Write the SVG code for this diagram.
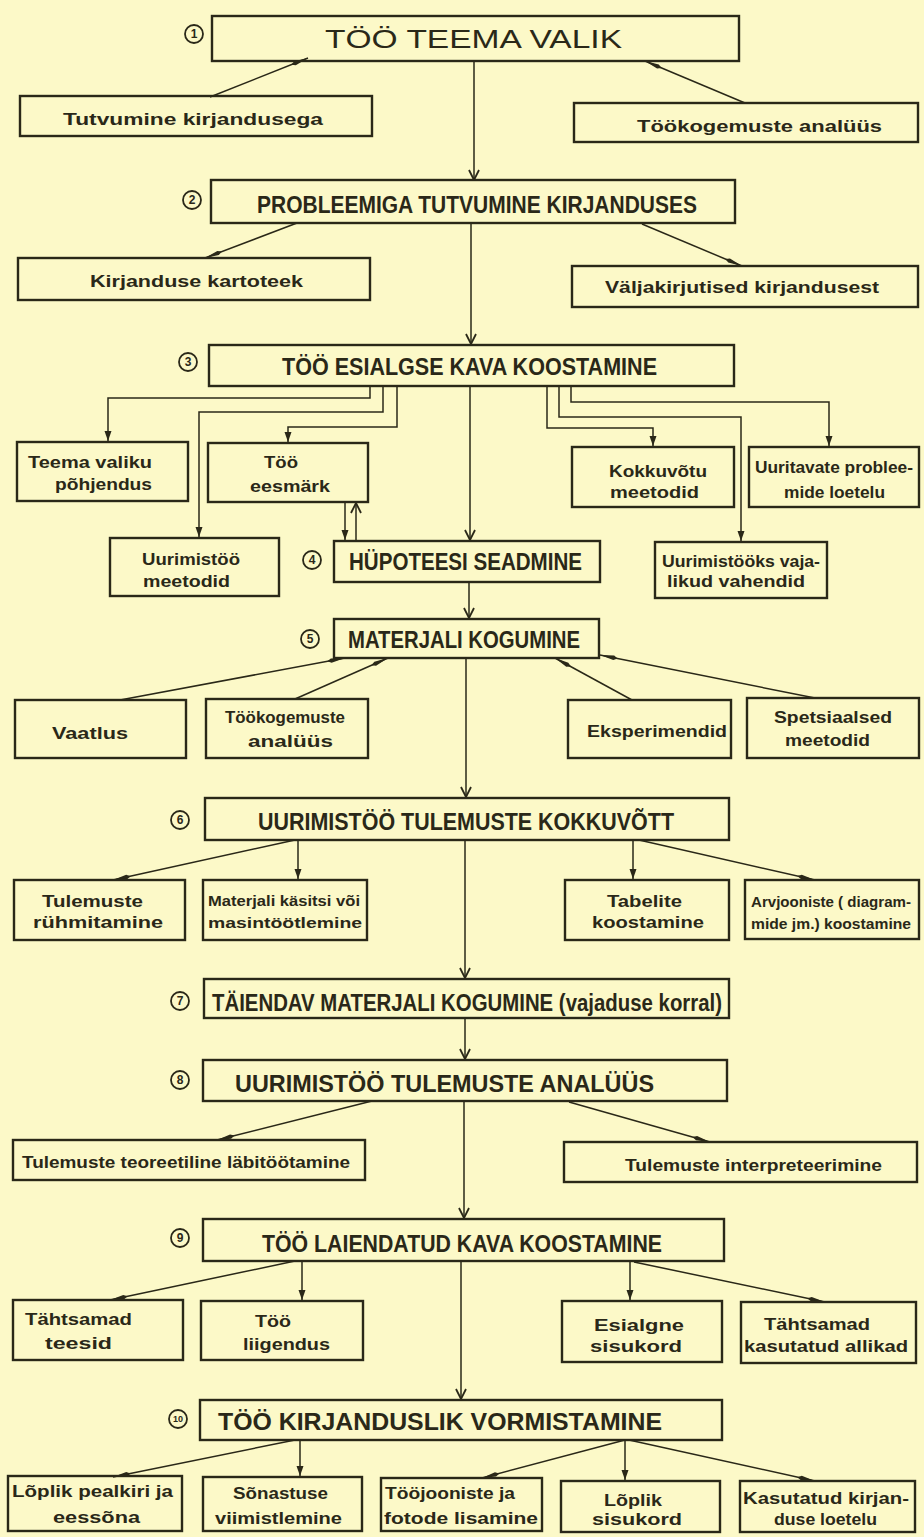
<svg xmlns="http://www.w3.org/2000/svg" width="924" height="1537" viewBox="0 0 924 1537">
<style>
.bg{fill:#fcf9c8}
.bx{fill:none;stroke:#2a2818;stroke-width:2.4}
.c{fill:none;stroke:#2a2818;stroke-width:1.5}
.t{font-family:"Liberation Sans",Arial,sans-serif;fill:#2a2818}
.tm{font-size:23px;font-weight:bold}
.t1{font-size:26px;font-weight:normal}
.ts{font-size:17px;font-weight:bold}
.tx{font-size:15px;font-weight:bold}
.n{fill:none;stroke:#2a2818;stroke-width:1.8}
.nt{font-family:"Liberation Sans",Arial,sans-serif;font-size:12px;font-weight:bold;fill:#2a2818;text-anchor:middle}
</style>
<defs>
<marker id="chev" viewBox="0 0 12 12" refX="11" refY="6" markerWidth="12" markerHeight="12" markerUnits="userSpaceOnUse" orient="auto">
<path d="M1,1 L11,6 L1,11" fill="none" stroke="#2a2818" stroke-width="1.8"/>
</marker>
<marker id="slim" viewBox="0 0 18 6" refX="18" refY="3" markerWidth="18" markerHeight="6" markerUnits="userSpaceOnUse" orient="auto">
<path d="M0,3 L4,0.8 L18,3 L4,5.2 Z" fill="#2a2818"/>
</marker>
<marker id="smh" viewBox="0 0 10 8" refX="10" refY="4" markerWidth="10" markerHeight="8" markerUnits="userSpaceOnUse" orient="auto">
<path d="M0,0.5 L10,4 L0,7.5 Z" fill="#2a2818"/>
</marker>
</defs>
<rect class="bg" x="0" y="0" width="924" height="1537"/>

<g id="connectors">
<path class="c" d="M210,97 L308,58" marker-end="url(#slim)"/>
<path class="c" d="M745,103 L645,61" marker-end="url(#slim)"/>
<path class="c" d="M474,61 V180" marker-end="url(#chev)"/>
<path class="c" d="M297,223 L205,258" marker-end="url(#slim)"/>
<path class="c" d="M642,224 L742,266" marker-end="url(#slim)"/>
<path class="c" d="M471,224 V344" marker-end="url(#chev)"/>
<path class="c" d="M370,386 V398 H108 V441" marker-end="url(#smh)"/>
<path class="c" d="M383,386 V412 H199 V537" marker-end="url(#smh)"/>
<path class="c" d="M397,386 V427 H288 V442" marker-end="url(#smh)"/>
<path class="c" d="M547,386 V428 H653 V446" marker-end="url(#smh)"/>
<path class="c" d="M559,386 V417 H741 V541" marker-end="url(#smh)"/>
<path class="c" d="M571,386 V402 H829 V446" marker-end="url(#smh)"/>
<path class="c" d="M470,386 V540" marker-end="url(#chev)"/>
<path class="c" d="M345,502 V540" marker-end="url(#smh)"/>
<path class="c" d="M356,541 V503" marker-end="url(#chev)"/>
<path class="c" d="M469,582 V618" marker-end="url(#chev)"/>
<path class="c" d="M120,700 L345,658" marker-end="url(#slim)"/>
<path class="c" d="M295,699 L388,658" marker-end="url(#slim)"/>
<path class="c" d="M632,700 L555,658" marker-end="url(#slim)"/>
<path class="c" d="M815,698 L600,655" marker-end="url(#slim)"/>
<path class="c" d="M466,658 V797" marker-end="url(#chev)"/>
<path class="c" d="M295,840 L113,880" marker-end="url(#slim)"/>
<path class="c" d="M298,840 V879" marker-end="url(#smh)"/>
<path class="c" d="M633,840 V879" marker-end="url(#smh)"/>
<path class="c" d="M639,840 L815,880" marker-end="url(#slim)"/>
<path class="c" d="M465,840 V978" marker-end="url(#chev)"/>
<path class="c" d="M465,1018 V1059" marker-end="url(#chev)"/>
<path class="c" d="M372,1101 L217,1140" marker-end="url(#slim)"/>
<path class="c" d="M569,1102 L710,1142" marker-end="url(#slim)"/>
<path class="c" d="M464,1101 V1218" marker-end="url(#chev)"/>
<path class="c" d="M295,1261 L110,1300" marker-end="url(#slim)"/>
<path class="c" d="M302,1261 V1300" marker-end="url(#smh)"/>
<path class="c" d="M630,1262 V1300" marker-end="url(#smh)"/>
<path class="c" d="M634,1262 L825,1302" marker-end="url(#slim)"/>
<path class="c" d="M461,1261 V1399" marker-end="url(#chev)"/>
<path class="c" d="M295,1440 L113,1477" marker-end="url(#slim)"/>
<path class="c" d="M300,1440 V1476" marker-end="url(#smh)"/>
<path class="c" d="M625,1440 L482,1478" marker-end="url(#slim)"/>
<path class="c" d="M625,1440 V1480" marker-end="url(#smh)"/>
<path class="c" d="M629,1440 L815,1481" marker-end="url(#slim)"/>
</g>

<g id="n1"><rect class="bx" x="212" y="16" width="527" height="45"/><circle class="n" cx="194" cy="34" r="9"/><text class="nt" x="194" y="38">1</text><text class="t t1" x="325" y="48" textLength="297" lengthAdjust="spacingAndGlyphs">TÖÖ  TEEMA  VALIK</text></g>
<g id="n2"><rect class="bx" x="211" y="180" width="524" height="43"/><circle class="n" cx="192" cy="200" r="9"/><text class="nt" x="192" y="204">2</text><text class="t tm" x="257" y="213" textLength="440" lengthAdjust="spacingAndGlyphs">PROBLEEMIGA TUTVUMINE KIRJANDUSES</text></g>
<g id="n3"><rect class="bx" x="209" y="345" width="525" height="41"/><circle class="n" cx="188" cy="362" r="9"/><text class="nt" x="188" y="366">3</text><text class="t tm" x="282" y="375" textLength="375" lengthAdjust="spacingAndGlyphs">TÖÖ ESIALGSE KAVA KOOSTAMINE</text></g>
<g id="n4"><rect class="bx" x="334" y="541" width="266" height="41"/><circle class="n" cx="312" cy="560" r="9"/><text class="nt" x="312" y="564">4</text><text class="t tm" x="349" y="570" textLength="233" lengthAdjust="spacingAndGlyphs">HÜPOTEESI SEADMINE</text></g>
<g id="n5"><rect class="bx" x="334" y="619" width="265" height="39"/><circle class="n" cx="310" cy="639" r="9"/><text class="nt" x="310" y="643">5</text><text class="t tm" x="348" y="648" textLength="232" lengthAdjust="spacingAndGlyphs">MATERJALI KOGUMINE</text></g>
<g id="n6"><rect class="bx" x="205" y="798" width="524" height="42"/><circle class="n" cx="180" cy="820" r="9"/><text class="nt" x="180" y="824">6</text><text class="t tm" x="258" y="830" textLength="416" lengthAdjust="spacingAndGlyphs">UURIMISTÖÖ  TULEMUSTE  KOKKUVÕTT</text></g>
<g id="n7"><rect class="bx" x="204" y="979" width="525" height="39"/><circle class="n" cx="180" cy="1001" r="9"/><text class="nt" x="180" y="1005">7</text><text class="t tm" x="212" y="1011" textLength="510" lengthAdjust="spacingAndGlyphs">TÄIENDAV MATERJALI KOGUMINE (vajaduse korral)</text></g>
<g id="n8"><rect class="bx" x="203" y="1060" width="524" height="41"/><circle class="n" cx="180" cy="1080" r="9"/><text class="nt" x="180" y="1084">8</text><text class="t tm" x="235" y="1092" textLength="419" lengthAdjust="spacingAndGlyphs">UURIMISTÖÖ  TULEMUSTE   ANALÜÜS</text></g>
<g id="n9"><rect class="bx" x="203" y="1219" width="521" height="42"/><circle class="n" cx="180" cy="1238" r="9"/><text class="nt" x="180" y="1242">9</text><text class="t tm" x="262" y="1252" textLength="400" lengthAdjust="spacingAndGlyphs">TÖÖ  LAIENDATUD KAVA KOOSTAMINE</text></g>
<g id="n10"><rect class="bx" x="200" y="1400" width="522" height="40"/><circle class="n" cx="178" cy="1419" r="9"/><text class="nt" x="178" y="1422" style="font-size:9px">10</text><text class="t tm" x="218" y="1430" textLength="444" lengthAdjust="spacingAndGlyphs">TÖÖ  KIRJANDUSLIK  VORMISTAMINE</text></g>

<g id="s1"><rect class="bx" x="20" y="96" width="352" height="40"/><text class="t ts" x="63" y="125" textLength="260" lengthAdjust="spacingAndGlyphs">Tutvumine  kirjandusega</text></g>
<g id="s2"><rect class="bx" x="574" y="103" width="344" height="39"/><text class="t ts" x="637" y="132" textLength="245" lengthAdjust="spacingAndGlyphs">Töökogemuste  analüüs</text></g>
<g id="s3"><rect class="bx" x="18" y="258" width="352" height="42"/><text class="t ts" x="90" y="287" textLength="213" lengthAdjust="spacingAndGlyphs">Kirjanduse kartoteek</text></g>
<g id="s4"><rect class="bx" x="572" y="266" width="346" height="41"/><text class="t ts" x="605" y="293" textLength="274" lengthAdjust="spacingAndGlyphs">Väljakirjutised kirjandusest</text></g>
<g id="s5"><rect class="bx" x="17" y="442" width="171" height="59"/><text class="t ts" x="28" y="468" textLength="124" lengthAdjust="spacingAndGlyphs">Teema valiku</text><text class="t ts" x="55" y="490" textLength="97" lengthAdjust="spacingAndGlyphs">põhjendus</text></g>
<g id="s6"><rect class="bx" x="208" y="443" width="160" height="59"/><text class="t ts" x="264" y="468" textLength="34" lengthAdjust="spacingAndGlyphs">Töö</text><text class="t ts" x="250" y="492" textLength="80" lengthAdjust="spacingAndGlyphs">eesmärk</text></g>
<g id="s7"><rect class="bx" x="572" y="447" width="162" height="60"/><text class="t ts" x="609" y="477" textLength="98" lengthAdjust="spacingAndGlyphs">Kokkuvõtu</text><text class="t ts" x="610" y="498" textLength="89" lengthAdjust="spacingAndGlyphs">meetodid</text></g>
<g id="s8"><rect class="bx" x="749" y="447" width="170" height="60"/><text class="t ts" x="755" y="473" textLength="158" lengthAdjust="spacingAndGlyphs">Uuritavate problee-</text><text class="t ts" x="784" y="498" textLength="101" lengthAdjust="spacingAndGlyphs">mide loetelu</text></g>
<g id="s9"><rect class="bx" x="110" y="538" width="169" height="58"/><text class="t ts" x="142" y="565" textLength="98" lengthAdjust="spacingAndGlyphs">Uurimistöö</text><text class="t ts" x="143" y="587" textLength="87" lengthAdjust="spacingAndGlyphs">meetodid</text></g>
<g id="s10"><rect class="bx" x="655" y="542" width="172" height="56"/><text class="t ts" x="662" y="567" textLength="158" lengthAdjust="spacingAndGlyphs">Uurimistööks vaja-</text><text class="t ts" x="667" y="587" textLength="138" lengthAdjust="spacingAndGlyphs">likud vahendid</text></g>
<g id="s11"><rect class="bx" x="15" y="700" width="171" height="58"/><text class="t ts" x="52" y="739" textLength="76" lengthAdjust="spacingAndGlyphs">Vaatlus</text></g>
<g id="s12"><rect class="bx" x="206" y="699" width="162" height="59"/><text class="t ts" x="225" y="723" textLength="120" lengthAdjust="spacingAndGlyphs">Töökogemuste</text><text class="t ts" x="248" y="747" textLength="85" lengthAdjust="spacingAndGlyphs">analüüs</text></g>
<g id="s13"><rect class="bx" x="568" y="700" width="163" height="58"/><text class="t ts" x="587" y="737" textLength="140" lengthAdjust="spacingAndGlyphs">Eksperimendid</text></g>
<g id="s14"><rect class="bx" x="747" y="698" width="172" height="60"/><text class="t ts" x="774" y="723" textLength="118" lengthAdjust="spacingAndGlyphs">Spetsiaalsed</text><text class="t ts" x="785" y="746" textLength="85" lengthAdjust="spacingAndGlyphs">meetodid</text></g>
<g id="s15"><rect class="bx" x="14" y="880" width="171" height="60"/><text class="t ts" x="42" y="907" textLength="101" lengthAdjust="spacingAndGlyphs">Tulemuste</text><text class="t ts" x="33" y="928" textLength="130" lengthAdjust="spacingAndGlyphs">rühmitamine</text></g>
<g id="s16"><rect class="bx" x="203" y="880" width="164" height="60"/><text class="t tx" x="208" y="906" textLength="152" lengthAdjust="spacingAndGlyphs">Materjali käsitsi või</text><text class="t tx" x="208" y="928" textLength="154" lengthAdjust="spacingAndGlyphs">masintöötlemine</text></g>
<g id="s17"><rect class="bx" x="565" y="880" width="164" height="60"/><text class="t ts" x="607" y="907" textLength="75" lengthAdjust="spacingAndGlyphs">Tabelite</text><text class="t ts" x="592" y="928" textLength="112" lengthAdjust="spacingAndGlyphs">koostamine</text></g>
<g id="s18"><rect class="bx" x="745" y="880" width="174" height="59"/><text class="t tx" x="751" y="907" textLength="160" lengthAdjust="spacingAndGlyphs">Arvjooniste ( diagram-</text><text class="t tx" x="751" y="929" textLength="160" lengthAdjust="spacingAndGlyphs">mide jm.) koostamine</text></g>
<g id="s19"><rect class="bx" x="13" y="1140" width="352" height="40"/><text class="t ts" x="22" y="1168" textLength="328" lengthAdjust="spacingAndGlyphs">Tulemuste teoreetiline läbitöötamine</text></g>
<g id="s20"><rect class="bx" x="564" y="1142" width="353" height="40"/><text class="t ts" x="625" y="1171" textLength="257" lengthAdjust="spacingAndGlyphs">Tulemuste interpreteerimine</text></g>
<g id="s21"><rect class="bx" x="13" y="1300" width="170" height="60"/><text class="t ts" x="25" y="1325" textLength="107" lengthAdjust="spacingAndGlyphs">Tähtsamad</text><text class="t ts" x="45" y="1349" textLength="67" lengthAdjust="spacingAndGlyphs">teesid</text></g>
<g id="s22"><rect class="bx" x="201" y="1301" width="162" height="59"/><text class="t ts" x="255" y="1327" textLength="36" lengthAdjust="spacingAndGlyphs">Töö</text><text class="t ts" x="243" y="1350" textLength="87" lengthAdjust="spacingAndGlyphs">liigendus</text></g>
<g id="s23"><rect class="bx" x="562" y="1301" width="160" height="61"/><text class="t ts" x="594" y="1331" textLength="90" lengthAdjust="spacingAndGlyphs">Esialgne</text><text class="t ts" x="590" y="1352" textLength="92" lengthAdjust="spacingAndGlyphs">sisukord</text></g>
<g id="s24"><rect class="bx" x="741" y="1302" width="175" height="61"/><text class="t ts" x="764" y="1330" textLength="106" lengthAdjust="spacingAndGlyphs">Tähtsamad</text><text class="t ts" x="744" y="1352" textLength="164" lengthAdjust="spacingAndGlyphs">kasutatud allikad</text></g>
<g id="s25"><rect class="bx" x="8" y="1476" width="174" height="55"/><text class="t ts" x="12" y="1497" textLength="161" lengthAdjust="spacingAndGlyphs">Lõplik pealkiri ja</text><text class="t ts" x="53" y="1523" textLength="87" lengthAdjust="spacingAndGlyphs">eessõna</text></g>
<g id="s26"><rect class="bx" x="203" y="1477" width="159" height="54"/><text class="t ts" x="233" y="1499" textLength="95" lengthAdjust="spacingAndGlyphs">Sõnastuse</text><text class="t ts" x="215" y="1524" textLength="127" lengthAdjust="spacingAndGlyphs">viimistlemine</text></g>
<g id="s27"><rect class="bx" x="381" y="1478" width="161" height="53"/><text class="t ts" x="385" y="1499" textLength="130" lengthAdjust="spacingAndGlyphs">Tööjooniste ja</text><text class="t ts" x="384" y="1524" textLength="154" lengthAdjust="spacingAndGlyphs">fotode lisamine</text></g>
<g id="s28"><rect class="bx" x="561" y="1481" width="159" height="51"/><text class="t ts" x="604" y="1506" textLength="58" lengthAdjust="spacingAndGlyphs">Lõplik</text><text class="t ts" x="592" y="1525" textLength="90" lengthAdjust="spacingAndGlyphs">sisukord</text></g>
<g id="s29"><rect class="bx" x="740" y="1481" width="175" height="51"/><text class="t ts" x="743" y="1504" textLength="166" lengthAdjust="spacingAndGlyphs">Kasutatud kirjan-</text><text class="t ts" x="774" y="1525" textLength="103" lengthAdjust="spacingAndGlyphs">duse loetelu</text></g>
</svg>
